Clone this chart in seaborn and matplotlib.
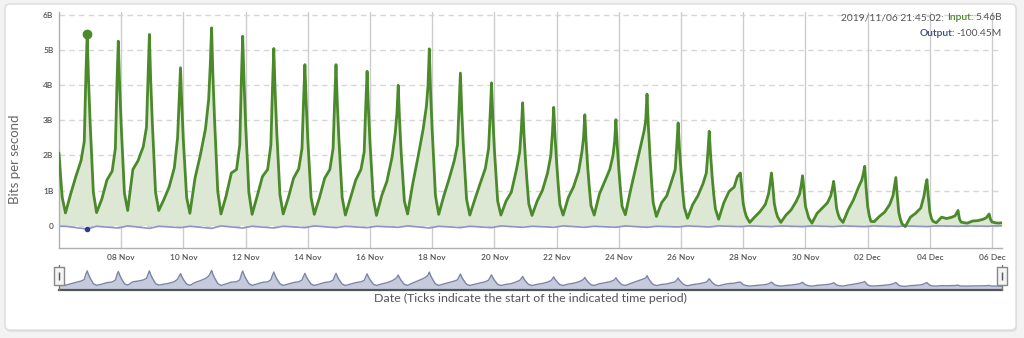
import numpy as np
import pandas as pd
import matplotlib
matplotlib.use("Agg")
import matplotlib.pyplot as plt
import matplotlib.dates as mdates
from matplotlib.patches import FancyBboxPatch
from matplotlib.transforms import IdentityTransform, blended_transform_factory
import seaborn as sns

# ---------------------------------------------------------------------------
# Inbound traffic in gigabits per second ("B"), sampled at fixed times of day,
# one entry per day from 06 Nov to 05 Dec 2019.
# ---------------------------------------------------------------------------
days = pd.date_range("2019-11-06", "2019-12-05", freq="D")
slot_hours = [0.0, 1.25, 2.5, 5.0, 9.0, 13.0, 17.0, 19.5, 20.75, 21.75, 22.75]

in_0000 = [2.07, 2.95, 2.85, 2.95, 2.40, 3.05, 2.90, 2.70, 2.45, 2.45, 2.35, 2.10, 2.70, 2.30, 2.15,
           1.85, 1.80, 1.65, 1.60, 2.00, 1.55, 1.40, 0.62, 0.62, 0.55, 0.50, 0.55, 0.38, 0.38, 0.10]
in_0115 = [1.40, 1.95, 1.90, 1.95, 1.60, 2.00, 1.95, 1.80, 1.62, 1.62, 1.55, 1.40, 1.80, 1.55, 1.42,
           1.20, 1.15, 1.08, 1.02, 1.25, 0.98, 0.88, 0.40, 0.40, 0.38, 0.32, 0.28, 0.18, 0.20, 0.09]
in_0230 = [0.80, 0.95, 0.92, 0.95, 0.80, 0.98, 0.95, 0.88, 0.80, 0.80, 0.78, 0.70, 0.85, 0.75, 0.70,
           0.62, 0.60, 0.57, 0.55, 0.65, 0.52, 0.48, 0.25, 0.25, 0.22, 0.20, 0.12, 0.05, 0.12, 0.08]
in_0500 = [0.36, 0.37, 0.43, 0.43, 0.35, 0.33, 0.32, 0.33, 0.32, 0.30, 0.29, 0.33, 0.32, 0.30, 0.30,
           0.29, 0.30, 0.30, 0.31, 0.26, 0.21, 0.18, 0.09, 0.09, 0.07, 0.09, 0.11, -0.03, 0.08, 0.07]
in_0900 = [0.90, 0.75, 1.60, 0.75, 1.36, 0.85, 0.85, 0.80, 0.80, 0.80, 0.85, 1.20, 0.85, 0.76, 0.70,
           0.70, 0.80, 0.90, 1.00, 0.65, 0.60, 0.65, 0.25, 0.30, 0.35, 0.45, 0.26, 0.24, 0.24, 0.13]
in_1300 = [1.40, 1.30, 1.85, 1.10, 2.00, 1.50, 1.40, 1.35, 1.35, 1.30, 1.26, 1.95, 1.33, 1.20, 0.95,
           1.00, 1.10, 1.25, 1.65, 0.85, 0.85, 0.97, 0.40, 0.45, 0.50, 0.73, 0.38, 0.35, 0.20, 0.14]
in_1700 = [1.85, 1.55, 2.25, 1.65, 2.75, 1.60, 1.60, 1.62, 1.60, 1.60, 1.95, 2.75, 1.85, 1.63, 1.60,
           1.50, 1.55, 1.60, 2.30, 1.30, 1.20, 1.10, 0.60, 0.70, 0.65, 1.10, 0.60, 0.50, 0.24, 0.18]
in_1930 = [2.40, 2.20, 2.80, 2.50, 3.60, 2.30, 2.30, 2.20, 2.20, 2.10, 2.65, 3.40, 2.30, 2.20, 2.10,
           2.00, 2.10, 2.00, 2.70, 1.60, 1.50, 1.40, 0.90, 0.90, 0.85, 1.30, 0.85, 0.85, 0.28, 0.22]
in_2045 = [4.30, 4.10, 4.30, 3.60, 4.60, 4.20, 3.95, 3.60, 3.60, 3.45, 3.20, 4.00, 3.40, 3.20, 2.75,
           2.65, 2.50, 2.40, 3.00, 2.30, 2.10, 1.45, 1.20, 1.15, 1.05, 1.50, 1.15, 1.15, 0.36, 0.28]
in_peak = [5.46, 5.26, 5.45, 4.50, 5.64, 5.40, 5.05, 4.59, 4.59, 4.40, 4.00, 5.04, 4.35, 4.07, 3.50,
           3.37, 3.16, 3.02, 3.75, 2.93, 2.69, 1.50, 1.50, 1.42, 1.26, 1.69, 1.37, 1.31, 0.43, 0.33]
in_2245 = [4.20, 4.05, 4.15, 3.45, 4.30, 4.15, 3.85, 3.50, 3.50, 3.35, 3.05, 3.80, 3.30, 3.10, 2.65,
           2.55, 2.40, 2.30, 2.85, 2.20, 2.05, 1.10, 1.15, 1.05, 0.95, 1.10, 0.90, 0.85, 0.20, 0.18]

# last partial day (06 Dec)
tail_hours = [0.0, 2.5, 5.0, 7.67]
tail_in = [0.10, 0.08, 0.07, 0.08]

# Outbound traffic (drawn as negative values)
out_hours = [5.0, 21.75]
out_0500 = [-0.02, -0.02, -0.01, -0.02, -0.02, -0.01, -0.02, -0.02, -0.01, -0.02, -0.02, -0.01, -0.02, -0.02, -0.01,
            -0.02, -0.01, -0.02, -0.01, -0.02, -0.01, -0.01, -0.01, -0.01, -0.01, -0.01, -0.01, -0.01, -0.01, -0.01]
out_2145 = [-0.10, -0.07, -0.08, -0.06, -0.08, -0.07, -0.07, -0.06, -0.06, -0.06, -0.05, -0.07, -0.06, -0.06, -0.05,
            -0.05, -0.05, -0.05, -0.05, -0.04, -0.04, -0.03, -0.03, -0.03, -0.03, -0.03, -0.03, -0.03, -0.02, -0.02]
tail_out = [-0.01, -0.01, -0.01, -0.01]

y_ticks = [0, 1, 2, 3, 4, 5, 6]
y_ticklabels = ["0", "1B", "2B", "3B", "4B", "5B", "6B"]
x_ticks = pd.date_range("2019-11-08", "2019-12-06", freq="2D")
hover_time = pd.Timestamp("2019-11-06 21:45:02")
hover_in = 5.46
hover_out = -0.10045

# ---------------------------------------------------------------------------
in_slots = [in_0000, in_0115, in_0230, in_0500, in_0900, in_1300, in_1700, in_1930, in_2045, in_peak, in_2245]
rows = []
for i, day in enumerate(days):
    for h, series in zip(slot_hours, in_slots):
        rows.append((day + pd.Timedelta(hours=h), series[i]))
last_day = days[-1] + pd.Timedelta(days=1)
for h, v in zip(tail_hours, tail_in):
    rows.append((last_day + pd.Timedelta(hours=h), v))
df_in = pd.DataFrame(rows, columns=["time", "bps"])

rows = [(days[0], -0.02)]
for i, day in enumerate(days):
    for h, series in zip(out_hours, [out_0500, out_2145]):
        rows.append((day + pd.Timedelta(hours=h), series[i]))
for h, v in zip(tail_hours, tail_out):
    rows.append((last_day + pd.Timedelta(hours=h), v))
df_out = pd.DataFrame(rows, columns=["time", "bps"])

# ---------------------------------------------------------------------------
sns.set_theme(style="white")
plt.rcParams["font.family"] = ["Lato", "DejaVu Sans"]

W, H = 1024, 338
fig = plt.figure(figsize=(W / 100, H / 100), dpi=100)
fig.patch.set_facecolor("#f3f3f3")

# card background with a soft shadow
shadow = FancyBboxPatch((6, H - 332), 1011, 327, boxstyle="round,pad=0,rounding_size=5",
                        transform=IdentityTransform(), facecolor="#e2e2e2", edgecolor="none", zorder=-3)
card = FancyBboxPatch((5, H - 330), 1011, 326, boxstyle="round,pad=0,rounding_size=5",
                      transform=IdentityTransform(), facecolor="white", edgecolor="#dcdcdc", lw=1, zorder=-2)
fig.patches.extend([shadow, card])

x0 = pd.Timestamp("2019-11-06 00:00")
x1 = pd.Timestamp("2019-12-06 07:40")

green = "#4b8a2b"
fill_green = "#dce8d3"
blue = "#8c93c8"

ax_l, ax_r = 59 / W, 1002 / W
ax = fig.add_axes([ax_l, 1 - 248 / H, ax_r - ax_l, (248 - 11.7) / H])
ax.set_facecolor("none")

ax.fill_between(df_in["time"], df_in["bps"], 0, color=fill_green, lw=0, zorder=1)
sns.lineplot(data=df_in, x="time", y="bps", ax=ax, color=green, lw=2.0, zorder=3)
sns.lineplot(data=df_out, x="time", y="bps", ax=ax, color=blue, lw=1.2, zorder=2)
ax.plot([hover_time], [hover_in], "o", color=green, ms=6, zorder=4)
ax.plot([hover_time], [hover_out], "o", color="#2d3a8c", ms=3, zorder=4)

ax.set_xlim(x0, x1)
ax.set_ylim(-0.64, 6.1)
ax.set_yticks(y_ticks)
ax.set_yticklabels(y_ticklabels)
ax.set_xticks(x_ticks)
ax.xaxis.set_major_formatter(mdates.DateFormatter("%d %b"))
ax.tick_params(axis="both", length=0, labelsize=6, labelcolor="#555555", pad=4)
for lab in ax.get_xticklabels() + ax.get_yticklabels():
    lab.set_fontweight("semibold")

ax.grid(axis="x", color="#cccccc", lw=1)
ax.grid(axis="y", color="#d6d6d6", lw=1, linestyle=(0, (4, 3)))
ax.set_axisbelow(True)
for s in ["top", "right"]:
    ax.spines[s].set_visible(False)
for s in ["left", "bottom"]:
    ax.spines[s].set_color("#b0b0b0")
    ax.spines[s].set_linewidth(1)
ax.set_xlabel("")
ax.set_ylabel("Bits per second", fontsize=9.5, color="#666666")
ax.yaxis.set_label_coords(-0.04, 0.377)

# navigator strip below the chart
nav = fig.add_axes([ax_l, 1 - 290 / H, ax_r - ax_l, 28 / H])
nav.set_facecolor("none")
nav.fill_between(df_in["time"], df_in["bps"], -1.3, color="#c5cbdd", lw=0)
sns.lineplot(data=df_in, x="time", y="bps", ax=nav, color="#7a86a8", lw=1.0)
nav.set_xlim(x0, x1)
nav.set_ylim(-1.3, 8.6)
nav.set_xticks([])
nav.set_yticks([])
for s in ["top", "right", "left"]:
    nav.spines[s].set_visible(False)
nav.spines["bottom"].set_color("#555555")
nav.spines["bottom"].set_linewidth(1.6)
nav.set_xlabel("Date (Ticks indicate the start of the indicated time period)", fontsize=8.9, color="#555555")
nav.xaxis.set_label_coords(0.5, -0.12)
nav.set_ylabel("")

bt = blended_transform_factory(nav.transData, nav.transAxes)
handle_shape = [(-0.5, -1), (0.5, -1), (0.5, 1), (-0.5, 1), (-0.5, -1)]
for hx in [x0, x1]:
    nav.plot([hx, hx], [0.0, 0.9], color="#777777", lw=1, transform=bt, clip_on=False, zorder=5)
    nav.plot([hx], [0.5], marker=handle_shape, ms=13, mfc="#f4f4f4", mec="#888888", mew=1,
             transform=bt, clip_on=False, zorder=6)
    nav.plot([hx], [0.5], marker="|", ms=6, color="#555555", mew=1, transform=bt, clip_on=False, zorder=7)

# hover read-out, right aligned in the top corner
renderer = fig.canvas.get_renderer()


def right_aligned_parts(x_px, y_px, parts):
    """parts: (text, colour, weight, space to its right in px), laid out right to left."""
    x = x_px
    for text, color, weight, gap in reversed(parts):
        x -= gap
        t = fig.text(x / W, 1 - y_px / H, text, ha="right", va="center", color=color,
                     fontweight=weight, fontsize=7.4)
        x = t.get_window_extent(renderer).x0


right_aligned_parts(1002, 18, [
    (hover_time.strftime("%Y/%m/%d %H:%M:%S") + ":", "#555555", "normal", 3),
    ("Input:", green, "semibold", 2),
    (f"{hover_in:.2f}B", "#555555", "normal", 0),
])
right_aligned_parts(1002, 34, [
    ("Output:", "#3d4a7c", "semibold", 2),
    (f"{hover_out * 1000:.2f}M", "#555555", "normal", 0),
])

fig.savefig("out.png", dpi=100, facecolor=fig.get_facecolor())
